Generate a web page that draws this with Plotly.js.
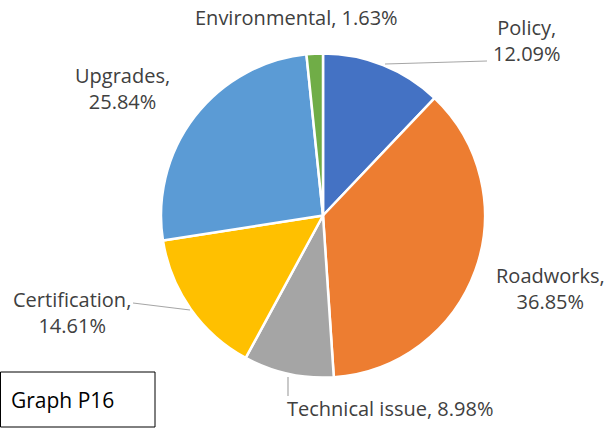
<!DOCTYPE html>
<html><head><meta charset="utf-8">
<script src="https://cdn.plot.ly/plotly-3.0.1.min.js"></script>
<style>html,body{margin:0;padding:0;background:#fff}</style>
</head><body>
<div id="chart" style="width:611px;height:428px"></div>
<script>
const categories = ["Policy", "Roadworks", "Technical issue", "Certification", "Upgrades", "Environmental"];
const values = [12.09, 36.85, 8.98, 14.61, 25.84, 1.63];
const colors = ["#4472C4", "#ED7D31", "#A5A5A5", "#FFC000", "#5B9BD5", "#70AD47"];
const labelTexts = ["Policy,<br>12.09%", "Roadworks,<br>36.85%", "Technical issue, 8.98%", "Certification,<br>14.61%", "Upgrades,<br>25.84%", "Environmental, 1.63%"];

const W = 611, H = 428;
const px = x => x / W, py = y => 1 - y / H;
const labelPos = [[527, 40], [550, 288], [390, 408], [72, 312], [122, 89], [296, 18]];
const font = {family: "Open Sans, sans-serif", size: 20, color: "#404040"};

const annotations = categories.map((c, i) => ({
  x: px(labelPos[i][0]), y: py(labelPos[i][1]), xref: "paper", yref: "paper",
  text: labelTexts[i], showarrow: false, font: font, align: "center",
  xanchor: "center", yanchor: "middle"
}));
annotations.push({x: px(9), y: py(400), xref: "paper", yref: "paper", text: "Graph P16",
  showarrow: false, xanchor: "left", yanchor: "middle", font: {family: "Open Sans, sans-serif", size: 21, color: "#000"}});

const leaders = [[[385, 64], [487, 61]], [[133, 303], [190, 310]], [[288, 377], [288, 396]]];
const shapes = leaders.map(l => ({type: "line", xref: "paper", yref: "paper",
  x0: px(l[0][0]), y0: py(l[0][1]), x1: px(l[1][0]), y1: py(l[1][1]), line: {color: "#A6A6A6", width: 1.2}}));
shapes.push({type: "rect", xref: "paper", yref: "paper", x0: px(0.5), x1: px(155), y0: py(427), y1: py(372),
  line: {color: "#000", width: 1}, fillcolor: "rgba(0,0,0,0)"});

Plotly.newPlot("chart", [{
  type: "pie", labels: categories, values: values, sort: false, direction: "clockwise", rotation: 0,
  marker: {colors: colors, line: {color: "#fff", width: 2.5}},
  textinfo: "none", hoverinfo: "label+percent",
  domain: {x: [161 / W, 485 / W], y: [1 - 378 / H, 1 - 53 / H]}
}], {
  width: W, height: H, margin: {l: 0, r: 0, t: 0, b: 0}, showlegend: false,
  paper_bgcolor: "#fff", annotations: annotations, shapes: shapes
}, {displayModeBar: false});
</script>
</body></html>
